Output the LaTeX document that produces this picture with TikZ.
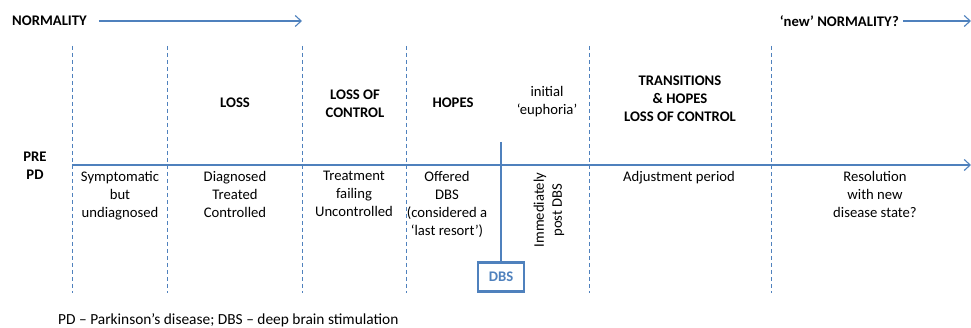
\documentclass[tikz,border=0pt]{standalone}
\usepackage{fontspec}
\setmainfont{Carlito}
\usetikzlibrary{arrows.meta}
\definecolor{lineblue}{HTML}{4F81BD}
\begin{document}
\begin{tikzpicture}[x=1pt,y=-1pt,
  txt/.style={align=center,font=\fontsize{14.67}{17.9}\selectfont,inner sep=0pt},
  head/.style={txt,font=\fontsize{14.67}{17.9}\selectfont\bfseries},
  sep/.style={lineblue,line width=1pt,dash pattern=on 4pt off 3pt},
  tl/.style={lineblue,line width=1.1pt,-{Straight Barb[length=6pt,width=11pt]}},
  dbsbox/.style={draw=lineblue,line width=2.5pt,minimum width=46pt,minimum height=29pt,inner sep=0pt,text=lineblue,font=\fontsize{14.67}{18}\selectfont\bfseries}]
\useasboundingbox (0,0) rectangle (971,328);
% top labels
\node[head,anchor=west] (norm) at (12,21) {NORMALITY};
\coordinate (normend) at (302,21);
\draw[tl] (norm.east) ++(12,0) -- (normend);
\node[head,anchor=east] (newnorm) at (899,21) {‘new’ NORMALITY?};
\coordinate (newend) at (971,21);
\draw[tl] (newnorm.east) ++(4,0) -- (newend);
% separators
\foreach \x/\n in {72/s1,167/s2,302/s3,406/s4,589/s5,771/s6}{
  \coordinate (\n t) at (\x,46);
  \coordinate (\n b) at (\x,293);
  \draw[sep] (\n t) -- (\n b);
}
% timeline
\coordinate (tlstart) at (72,165);
\coordinate (tlend) at (971,165);
\draw[tl] (tlstart) -- (tlend);
\node[head] (pre) at (35,166) {PRE\\PD};
% headings
\node[head] (loss) at (235,103) {LOSS};
\node[head] (lossc) at (355,104) {LOSS OF\\CONTROL};
\node[head] (hopes) at (453,103) {HOPES};
\node[txt] (euph) at (547,102) {initial\\‘euphoria’};
\node[head] (trans) at (680,98.5) {TRANSITIONS\\\&~HOPES\\LOSS OF CONTROL};
% stages
\node[txt,anchor=north] (st1) at (120,171) {Symptomatic\\but\\undiagnosed};
\node[txt,anchor=north] (st2) at (235,171) {Diagnosed\\Treated\\Controlled};
\node[txt,anchor=north] (st3) at (354,171) {Treatment\\failing\\Uncontrolled};
\node[txt,anchor=north] (st4) at (447,171) {Offered\\DBS\\(considered a\\‘last resort’)};
\node[txt,rotate=90] (st5) at (549,210) {Immediately\\post DBS};
\node[txt,anchor=north] (st6) at (679,171) {Adjustment period};
\node[txt,anchor=north] (st7) at (875,171) {Resolution\\with new\\disease state?};
% DBS marker
\node[dbsbox] (dbs) at (501,277) {DBS};
\coordinate (dbstop) at (501,142);
\draw[lineblue,line width=2.5pt] (dbstop) -- (dbs.north);
% footer
\node[txt,anchor=west,font=\fontsize{15.4}{18}\selectfont] (foot) at (58,320) {PD – Parkinson’s disease; DBS – deep brain stimulation};
\end{tikzpicture}
\end{document}
